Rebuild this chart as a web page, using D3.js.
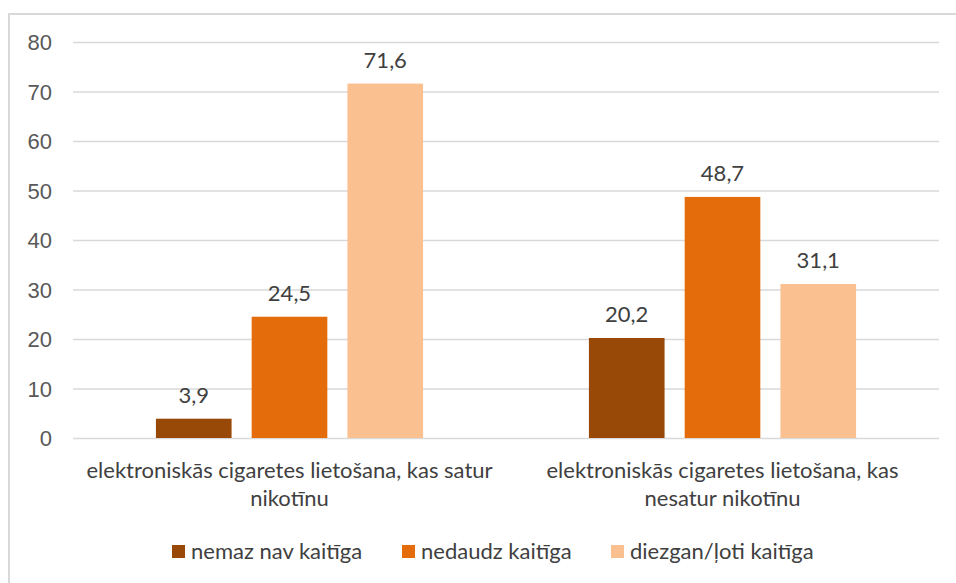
<!DOCTYPE html>
<html>
<head>
<meta charset="utf-8">
<script src="https://cdn.jsdelivr.net/npm/d3@7"></script>
<style>
  body { margin: 0; background: #fff; }
  svg { display: block; font-family: Lato, 'Open Sans', sans-serif; }
  .tick text { fill: #595959; font-size: 22px; }
</style>
</head>
<body>
<svg id="chart" width="956" height="583"></svg>
<script>
// category labels, with the line break as in the original
const categories = [
    'elektroniskās cigaretes lietošana, kas satur\nnikotīnu',
    'elektroniskās cigaretes lietošana, kas\nnesatur nikotīnu'
]
const series = ['nemaz nav kaitīga', 'nedaudz kaitīga', 'diezgan/ļoti kaitīga']
const values = [
    [3.9, 24.5, 71.6],
    [20.2, 48.7, 31.1]
]
const yTicks = [0, 10, 20, 30, 40, 50, 60, 70, 80]
const colors = ['#984807', '#e46c0a', '#fac090']

const svg = d3.select('#chart')
const width = 956
const height = 583
const margin = {top: 42, right: 17, bottom: 145, left: 73}
const fontSize = 22

// chart frame (only top and left edges visible in the crop)
svg.append('path')
    .attr('d', `M9,${height} V14 H${width}`)
    .attr('fill', 'none')
    .attr('stroke', '#d9d9d9')
    .attr('stroke-width', 2)

const g = svg.append('g')
    .attr('transform', `translate(${margin.left},${margin.top})`)

const innerW = width - margin.left - margin.right
const innerH = height - margin.top - margin.bottom

const x0 = d3.scaleBand().domain(categories).range([0, innerW])
const x1 = d3.scaleBand().domain(series).range([0, x0.bandwidth() * 0.617]).paddingInner(0.21)
const yScale = d3.scaleLinear().domain([0, 80]).range([innerH, 0])

const yAxis = d3.axisLeft(yScale).tickValues(yTicks).tickSize(-innerW).tickPadding(21)
g.append('g')
    .call(yAxis)
    .call(a => a.select('.domain').remove())
    .call(a => a.selectAll('.tick line').attr('stroke', '#d9d9d9').attr('stroke-width', 1.5))
    .call(a => a.selectAll('.tick text').attr('dy', '0.35em'))

const groupOffset = (x0.bandwidth() - x1.range()[1]) / 2

const groups = g.selectAll('.grp').data(categories).enter().append('g')
    .attr('class', 'grp')
    .attr('transform', d => `translate(${x0(d) + groupOffset},0)`)

groups.each(function(cat, ci) {
    const sel = d3.select(this)
    const data = series.map((s, si) => ({s, si, v: values[ci][si]}))
    sel.selectAll('rect').data(data).enter().append('rect')
        .attr('x', d => x1(d.s))
        .attr('y', d => yScale(d.v))
        .attr('width', x1.bandwidth())
        .attr('height', d => innerH - yScale(d.v))
        .attr('fill', d => colors[d.si])
    sel.selectAll('.lbl').data(data).enter().append('text')
        .attr('class', 'lbl')
        .attr('x', d => x1(d.s) + x1.bandwidth() / 2)
        .attr('y', d => yScale(d.v) - 16)
        .attr('text-anchor', 'middle')
        .attr('fill', '#404040')
        .attr('font-size', fontSize)
        .text(d => d.v.toFixed(1).replace('.', ','))
})

const cats = g.selectAll('.cat').data(categories).enter().append('text')
    .attr('class', 'cat')
    .attr('text-anchor', 'middle')
    .attr('fill', '#404040')
    .attr('font-size', fontSize)
cats.selectAll('tspan').data(d => d.split('\n').map(l => ({l, c: d}))).enter().append('tspan')
    .attr('x', d => x0(d.c) + x0.bandwidth() / 2)
    .attr('y', (d, i) => innerH + 40 + i * 28)
    .text(d => d.l)

// legend
const legendX = [172, 402, 611]
const legend = svg.append('g').attr('transform', `translate(0, 551)`)
const items = legend.selectAll('g').data(series).enter().append('g')
    .attr('transform', (d, i) => `translate(${legendX[i]},0)`)
items.append('rect')
    .attr('x', 0).attr('y', -6)
    .attr('width', 13).attr('height', 13)
    .attr('fill', (d, i) => colors[i])
items.append('text')
    .attr('x', 19)
    .attr('dy', '0.35em')
    .attr('fill', '#404040')
    .attr('font-size', fontSize)
    .text(d => d)
</script>
</body>
</html>
